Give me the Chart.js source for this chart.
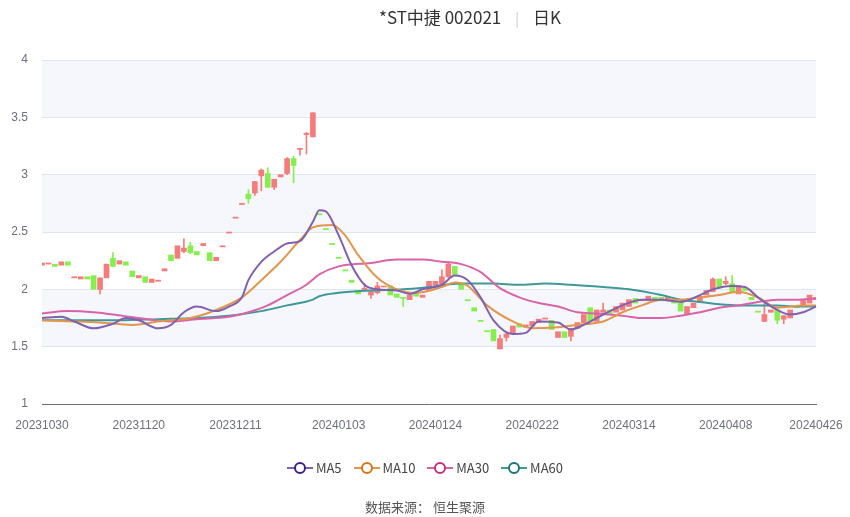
<!DOCTYPE html>
<html><head><meta charset="utf-8">
<script src="https://cdn.jsdelivr.net/npm/chart.js@4/dist/chart.umd.min.js"></script>
<style>
body{margin:0;width:850px;height:517px;background:#fff;font-family:"Noto Sans CJK SC","Noto Sans",sans-serif;position:relative;overflow:hidden}
#c{position:absolute;left:0;top:0}
.t{position:absolute;top:4px;left:0;width:850px;text-align:center;font-size:17px;color:#333}
.t span.sep{color:#ccc;margin:0 14px;font-size:14px}
#lg{position:absolute;top:458px;left:0;width:850px;text-align:center;font-size:13px;color:#444}
#lg span{display:inline-flex;align-items:center;margin:0 6px}
#src{position:absolute;top:497px;left:0;width:850px;text-align:center;font-size:13px;color:#555}
</style></head><body>
<canvas id="c" width="850" height="517"></canvas>
<div class="t"><span style="margin-left:90px">*ST中捷 002021</span><span class="sep">|</span><span>日K</span></div>
<div id="lg"></div>
<div id="src">数据来源： 恒生聚源</div>
<script>
const dates=["20231030","20231031",
"20231101","20231102","20231103","20231106","20231107","20231108","20231109","20231110","20231113","20231114","20231115","20231116","20231117","20231120","20231121","20231122","20231123","20231124","20231127","20231128","20231129","20231130",
"20231201","20231204","20231205","20231206","20231207","20231208","20231211","20231212","20231213","20231214","20231215","20231218","20231219","20231220","20231221","20231222","20231225","20231226","20231227","20231228","20231229",
"20240102","20240103","20240104","20240105","20240108","20240109","20240110","20240111","20240112","20240115","20240116","20240117","20240118","20240119","20240122","20240123","20240124","20240125","20240126","20240129","20240130","20240131",
"20240201","20240202","20240205","20240206","20240207","20240208","20240219","20240220","20240221","20240222","20240223","20240226","20240227","20240228","20240229",
"20240301","20240304","20240305","20240306","20240307","20240308","20240311","20240312","20240313","20240314","20240315","20240318","20240319","20240320","20240321","20240322","20240325","20240326","20240327","20240328","20240329",
"20240401","20240402","20240403","20240408","20240409","20240410","20240411","20240412","20240415","20240416","20240417","20240418","20240419","20240422","20240423","20240424","20240425","20240426"];
const tickIdx=[0,15,30,46,61,76,91,106,120];
const opens=[2.21,2.22,2.22,2.21,2.24,2.10,2.09,2.11,2.12,2.00,2.10,2.27,2.22,2.24,2.16,2.10,2.11,2.06,2.07,2.16,
2.30,2.27,2.33,2.38,2.33,2.38,2.32,2.25,2.37,2.49,2.62,2.74,2.83,2.84,2.99,3.01,2.89,2.98,3.01,3.14,
3.22,3.35,3.33,2.66,2.53,2.40,2.28,2.17,2.08,1.99,1.99,1.95,1.97,2.02,2.03,1.96,1.93,1.91,1.97,1.93,
1.99,2.04,2.05,2.11,2.20,2.05,1.91,1.84,1.73,1.64,1.65,1.48,1.58,1.61,1.70,1.67,1.68,1.71,1.74,1.73,
1.58,1.63,1.59,1.66,1.71,1.84,1.72,1.80,1.82,1.80,1.82,1.85,1.92,1.90,1.90,1.93,1.93,1.90,1.92,1.88,
1.78,1.84,1.90,1.95,1.98,2.09,2.05,2.05,1.96,2.01,1.93,1.81,1.72,1.80,1.82,1.74,1.75,1.85,1.86,1.88,1.91];
const closes=[2.23,2.23,2.20,2.24,2.21,2.11,2.11,2.09,2.00,2.10,2.22,2.20,2.25,2.21,2.11,2.12,2.06,2.09,2.08,2.18,
2.25,2.38,2.36,2.32,2.30,2.40,2.25,2.28,2.38,2.50,2.63,2.75,2.79,2.94,3.04,2.89,2.96,3.00,3.14,3.08,
3.23,3.36,3.54,2.65,2.52,2.39,2.27,2.16,2.06,1.96,2.01,1.98,2.03,2.02,1.95,1.93,1.92,1.95,1.94,1.95,
2.07,2.07,2.11,2.22,2.13,2.00,1.90,1.81,1.72,1.63,1.55,1.57,1.61,1.68,1.67,1.69,1.72,1.74,1.75,1.65,
1.63,1.58,1.66,1.71,1.78,1.72,1.82,1.82,1.78,1.85,1.88,1.91,1.88,1.91,1.94,1.90,1.90,1.93,1.88,1.81,
1.85,1.88,1.94,1.99,2.09,2.01,2.07,1.98,2.03,1.99,1.91,1.80,1.78,1.82,1.73,1.77,1.82,1.84,1.91,1.95,1.93];
// notable shadows: [index, low, high]
const shadows=[[9,1.96,2.10],[11,2.20,2.32],[22,2.32,2.44],[23,2.31,2.41],[32,2.75,2.87],[33,2.82,2.94],[34,2.86,3.05],[35,2.89,3.06],[36,2.87,2.96],[38,3.00,3.15],[39,2.93,3.16],[40,3.17,3.23],[41,3.18,3.37],[42,3.33,3.54],
[50,1.99,2.05],[51,1.92,1.98],[52,1.96,2.06],[56,1.85,1.93],[62,2.04,2.17],[63,2.10,2.24],[71,1.48,1.60],[72,1.55,1.62],[82,1.55,1.66],[87,1.80,1.88],[104,1.98,2.10],[106,2.04,2.11],[107,1.97,2.12],[112,1.72,1.90],[114,1.70,1.82],[115,1.70,1.77]];
const ma5Pts=[[0,1.75],[3,1.76],[5,1.72],[8,1.66],[11,1.70],[13,1.75],[15,1.73],[18,1.66],[20,1.69],[22,1.80],[24,1.85],[27,1.81],[29,1.85],[31,1.93],[32,2.08],[34,2.24],[36,2.33],[38,2.40],[40,2.42],[42,2.59],[43,2.69],[44,2.68],[46,2.47],[48,2.21],[50,2.04],[52,2.0],[55,1.99],[57,1.96],[59,2.00],[62,2.04],[64,2.12],[66,2.08],[68,1.93],[70,1.73],[73,1.61],[75,1.62],[77,1.72],[80,1.71],[82,1.65],[84,1.69],[87,1.78],[90,1.86],[93,1.91],[96,1.91],[99,1.89],[102,1.95],[104,2.0],[107,2.03],[109,2.02],[111,1.93],[114,1.82],[116,1.78],[118,1.80],[120,1.85]];
const ma10Pts=[[0,1.73],[5,1.72],[9,1.71],[14,1.69],[18,1.72],[23,1.75],[27,1.82],[31,1.93],[34,2.08],[37,2.24],[40,2.43],[42,2.54],[45,2.56],[47,2.47],[49,2.30],[52,2.10],[55,2.0],[58,1.97],[62,2.02],[64,2.06],[66,2.03],[69,1.86],[73,1.72],[76,1.66],[80,1.67],[83,1.69],[87,1.72],[90,1.80],[93,1.86],[96,1.91],[99,1.91],[102,1.93],[105,1.95],[108,1.98],[111,1.93],[114,1.84],[118,1.86],[120,1.86]];
const ma30Pts=[[0,1.79],[4,1.81],[8,1.80],[11,1.78],[15,1.75],[20,1.72],[24,1.74],[29,1.76],[32,1.80],[35,1.86],[38,1.95],[41,2.04],[43,2.13],[46,2.20],[51,2.23],[55,2.26],[59,2.26],[62,2.24],[65,2.22],[68,2.15],[71,2.01],[74,1.93],[77,1.88],[80,1.85],[83,1.80],[86,1.79],[90,1.77],[93,1.75],[96,1.75],[99,1.77],[102,1.80],[105,1.84],[108,1.86],[111,1.89],[114,1.91],[117,1.91],[120,1.92]];
const ma60Pts=[[0,1.73],[6,1.73],[12,1.73],[18,1.74],[24,1.75],[29,1.77],[34,1.81],[38,1.86],[42,1.91],[43,1.94],[46,1.97],[51,1.99],[56,2.0],[60,2.02],[65,2.05],[70,2.05],[74,2.04],[78,2.05],[82,2.04],[87,2.02],[91,2.0],[96,1.95],[99,1.91],[102,1.89],[105,1.87],[108,1.86],[111,1.86],[114,1.86],[117,1.85],[120,1.85]];
const yTicks=[1,1.5,2,2.5,3,3.5,4];

const UP='#f47c7c',DN='#86ef4f';
const bodies=opens.map((o,i)=>[o,closes[i]]);
const bodyCol=opens.map((o,i)=>closes[i]>=o?UP:DN);
const wick=dates.map(()=>null), wickCol=dates.map(()=>UP);
shadows.forEach(([i,l,h])=>{wick[i]=[l,h];wickCol[i]=bodyCol[i];});
function pts(a){const r=dates.map(()=>null);a.forEach(([i,v])=>r[i]=v);return r;}
const mas=[["MA5",ma5Pts,'#8061ad','#3d1f8c'],["MA10",ma10Pts,'#e0964f','#d4731a'],["MA30",ma30Pts,'#d764a9','#c2307e'],["MA60",ma60Pts,'#3f9898','#1d7474']];
const lineSets=mas.map(([n,p,c])=>({type:'line',label:n,data:pts(p),borderColor:c,borderWidth:2,pointRadius:0,spanGaps:true,tension:0.4,cubicInterpolationMode:'monotone',order:0}));

const bands={id:'bands',beforeDraw(ch){const{ctx,chartArea:a,scales:{y}}=ch;ctx.save();ctx.fillStyle='#f5f7fc';
[[1.5,2],[2.5,3],[3.5,4]].forEach(([lo,hi])=>{const t=y.getPixelForValue(hi),b=y.getPixelForValue(lo);ctx.fillRect(a.left,t,a.right-a.left,b-t);});ctx.restore();}};

new Chart(document.getElementById('c'),{type:'bar',
data:{labels:dates,datasets:[
{label:'wick',data:wick,backgroundColor:wickCol,barThickness:1,grouped:false,order:2},
{label:'body',data:bodies,backgroundColor:bodyCol,barThickness:5,minBarLength:1,grouped:false,order:1},
...lineSets]},
options:{responsive:false,animation:false,layout:{padding:{top:60,bottom:83,right:34,left:0}},
plugins:{legend:{display:false},tooltip:{enabled:false}},
scales:{x:{offset:false,grid:{display:false},border:{color:'#6e7079'},
 afterFit(s){s.height=30;},
 ticks:{autoSkip:false,maxRotation:0,color:'#6e7079',font:{size:12},padding:6,callback(v,i){return tickIdx.includes(i)?dates[i]:'';}}},
 y:{min:1,max:4,afterFit(s){s.width=42;},afterBuildTicks(s){s.ticks=yTicks.map(v=>({value:v}));},
 grid:{color:'#e0e6f1',drawTicks:false},border:{display:false},
 ticks:{color:'#6e7079',font:{size:12},padding:14,callback:v=>String(v)}}}},
plugins:[bands]});

document.getElementById('lg').innerHTML=mas.map(([n,,c,d])=>`<span><svg width="26" height="14"><line x1="0" y1="7" x2="26" y2="7" stroke="${c}" stroke-width="2"/><circle cx="13" cy="7" r="5" fill="#fff" stroke="${d}" stroke-width="2"/></svg>&nbsp;${n}</span>`).join('');
</script></body></html>
